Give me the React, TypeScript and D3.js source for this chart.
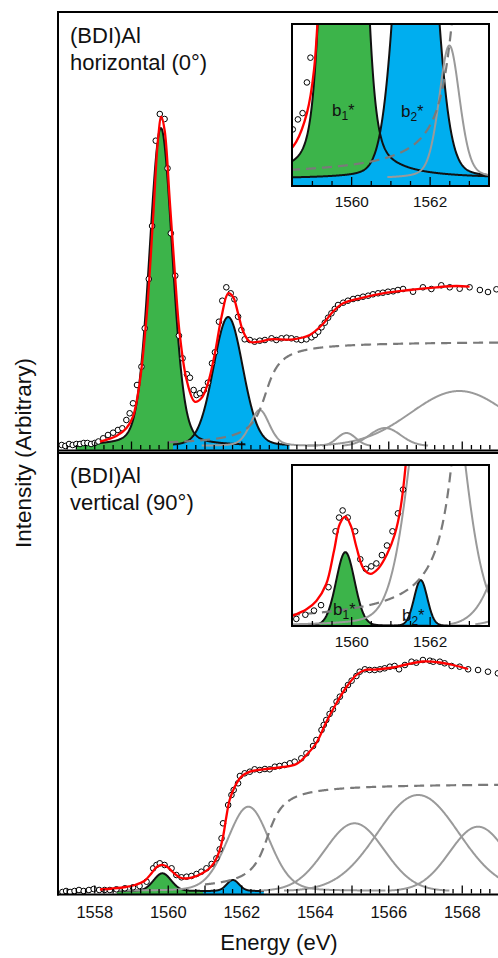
import React from "react";
import * as d3 from "d3";

const FONT = "'Liberation Sans', Arial, Helvetica, sans-serif";
const GREEN = "#3cb44a";
const BLUE = "#00aeef";
const GRAY = "#9a9a9a";
const DASH = "#7a7a7a";
const RED = "#ff0000";

// ---------- axis ----------
const xTickLabels = [1558, 1560, 1562, 1564, 1566, 1568];
const insetTickLabels = [1560, 1562];

// ---------- top panel : horizontal (0°) ----------
const topDataE = [
  1557.1, 1557.2, 1557.3, 1557.4, 1557.5, 1557.6, 1557.7, 1557.8, 1557.9, 1558.0, 1558.1,
  1558.23, 1558.36, 1558.5, 1558.63, 1558.75, 1558.86, 1558.95, 1559.04, 1559.15, 1559.27,
  1559.36, 1559.47, 1559.56, 1559.66, 1559.77, 1559.9, 1559.98, 1560.07, 1560.19, 1560.29,
  1560.39, 1560.51, 1560.59, 1560.69, 1560.77, 1560.86, 1560.97, 1561.08, 1561.19, 1561.27,
  1561.38, 1561.47, 1561.58, 1561.7, 1561.8, 1561.9, 1561.99, 1562.08, 1562.22, 1562.35,
  1562.49, 1562.63, 1562.81, 1562.94, 1563.08, 1563.22, 1563.35, 1563.49, 1563.62, 1563.76,
  1563.9, 1563.99, 1564.08, 1564.17, 1564.26, 1564.35, 1564.44, 1564.53, 1564.62, 1564.76,
  1564.89, 1565.03, 1565.16, 1565.3, 1565.44, 1565.57, 1565.71, 1565.84, 1565.98, 1566.12,
  1566.25, 1566.39, 1566.66, 1566.93, 1567.16, 1567.43, 1567.66, 1567.93, 1568.2, 1568.48,
  1568.7, 1568.93,
];
const topDataI = [
  0.01, 0.0, 0.02, 0.01, 0.02, 0.02, 0.03, 0.03, 0.02, 0.03, 0.045,
  0.077, 0.11, 0.133, 0.16, 0.177, 0.26, 0.327, 0.427, 0.61, 0.793,
  1.177, 1.67, 2.2, 3.053, 3.32, 3.27, 2.777, 2.127, 1.703, 1.103,
  0.877, 0.717, 0.683, 0.56, 0.51, 0.527, 0.56, 0.633, 0.827, 0.937,
  1.243, 1.453, 1.587, 1.527, 1.467, 1.293, 1.16, 1.067, 1.06, 1.043,
  1.053, 1.06, 1.077, 1.06, 1.077, 1.083, 1.077, 1.067, 1.06, 1.067,
  1.087, 1.11, 1.143, 1.187, 1.233, 1.283, 1.327, 1.37, 1.41, 1.433,
  1.453, 1.47, 1.48, 1.493, 1.503, 1.517, 1.527, 1.533, 1.543, 1.547,
  1.56, 1.57, 1.543, 1.587, 1.57, 1.607, 1.587, 1.573, 1.587, 1.56,
  1.54, 1.567,
];
const topFitE = [
  1558.14, 1558.59, 1558.86, 1559.04, 1559.22, 1559.41, 1559.59, 1559.72, 1559.81, 1559.9,
  1560.04, 1560.18, 1560.31, 1560.5, 1560.72, 1560.9, 1561.08, 1561.27, 1561.45, 1561.63,
  1561.76, 1561.9, 1562.04, 1562.22, 1562.49, 1562.76, 1563.4, 1563.85, 1564.21, 1564.48,
  1564.76, 1565.21, 1565.84, 1566.57, 1567.3, 1567.84, 1568.2,
];
const topFitI = [
  0.043, 0.1, 0.177, 0.293, 0.627, 1.293, 2.293, 3.06, 3.293, 3.16,
  2.46, 1.727, 1.127, 0.66, 0.443, 0.477, 0.627, 0.927, 1.293, 1.527,
  1.493, 1.327, 1.143, 1.043, 1.043, 1.067, 1.067, 1.11, 1.22, 1.343,
  1.427, 1.477, 1.527, 1.56, 1.587, 1.6, 1.593,
];
// peaks: b1*, b2*, then grey components
const topPeakCenter = [1559.8, 1561.63, 1562.49, 1564.85, 1565.9, 1567.92];
const topPeakHeight = [3.18, 1.29, 0.36, 0.13, 0.18, 0.55];
const topPeakFwhm = [0.74, 0.95, 0.62, 0.6, 1.0, 3.1];
const topPeakEta = [0.2, 0.12, 0.3, 0, 0, 0];
const topStep = [1562.65, 1.05, 0.3]; // edge energy, height, width
const topFillSpan = [[1557.5, 1562.1], [1560.13, 1563.3]];
const topDashFrom = 1560.0;

// ---------- bottom panel : vertical (90°) ----------
const botDataE = [
  1557.12, 1557.22, 1557.33, 1557.45, 1557.57, 1557.7, 1557.84, 1557.97, 1558.12, 1558.27,
  1558.41, 1558.59, 1558.82, 1559.04, 1559.22, 1559.41, 1559.59, 1559.68, 1559.77, 1559.9,
  1560.09, 1560.22, 1560.36, 1560.5, 1560.63, 1560.77, 1560.9, 1561.04, 1561.18, 1561.31,
  1561.4, 1561.45, 1561.49, 1561.63, 1561.72, 1561.78, 1561.9, 1561.95, 1562.08, 1562.22,
  1562.35, 1562.49, 1562.63, 1562.76, 1562.9, 1563.03, 1563.17, 1563.31, 1563.44, 1563.62,
  1563.76, 1563.94, 1564.03, 1564.17, 1564.23, 1564.3, 1564.39, 1564.48, 1564.58, 1564.67,
  1564.78, 1564.89, 1564.99, 1565.12, 1565.21, 1565.35, 1565.48, 1565.62, 1565.76, 1565.89,
  1566.03, 1566.16, 1566.28, 1566.44, 1566.62, 1566.75, 1566.93, 1567.12, 1567.21, 1567.39,
  1567.52, 1567.71, 1567.93, 1568.16, 1568.43, 1568.7, 1568.97,
];
const botDataI = [
  -0.01, 0.0, -0.01, 0.0, 0.01, 0.0, 0.01, 0.02, 0.01, 0.01,
  0.01, 0.017, 0.027, 0.037, 0.05, 0.093, 0.227, 0.26, 0.277, 0.26,
  0.227, 0.16, 0.137, 0.143, 0.15, 0.17, 0.193, 0.227, 0.27, 0.327,
  0.417, 0.527, 0.677, 0.86, 0.96, 1.01, 1.077, 1.15, 1.177, 1.193,
  1.217, 1.21, 1.22, 1.217, 1.243, 1.25, 1.26, 1.277, 1.293, 1.327,
  1.377, 1.45, 1.51, 1.61, 1.66, 1.71, 1.77, 1.817, 1.893, 1.943,
  2.01, 2.06, 2.103, 2.15, 2.193, 2.217, 2.21, 2.21, 2.217, 2.227,
  2.243, 2.25, 2.217, 2.26, 2.293, 2.283, 2.31, 2.303, 2.293, 2.293,
  2.277, 2.25, 2.243, 2.217, 2.21, 2.193, 2.177,
];
const botFitE = [
  1558.14, 1558.5, 1558.85, 1559.1, 1559.35, 1559.55, 1559.7, 1559.84, 1559.98, 1560.12,
  1560.3, 1560.48, 1560.68, 1560.9, 1561.1, 1561.25, 1561.4, 1561.49, 1561.58, 1561.67,
  1561.81, 1561.99, 1562.22, 1562.58, 1563.03, 1563.49, 1563.76, 1564.03, 1564.3, 1564.58,
  1564.85, 1565.12, 1565.35, 1565.67, 1566.12, 1566.48, 1566.93, 1567.39, 1567.75, 1568.16,
];
const botFitI = [
  0.015, 0.025, 0.04, 0.06, 0.1, 0.18, 0.245, 0.262, 0.24, 0.19,
  0.138, 0.125, 0.138, 0.172, 0.22, 0.285, 0.41, 0.54, 0.74, 0.91,
  1.043, 1.143, 1.193, 1.217, 1.235, 1.27, 1.36, 1.48, 1.69, 1.88,
  2.04, 2.16, 2.21, 2.215, 2.235, 2.265, 2.295, 2.285, 2.26, 2.22,
];
const botPeakCenter = [1559.84, 1561.76, 1562.18, 1565.07, 1566.8, 1568.43];
const botPeakHeight = [0.177, 0.11, 0.843, 0.677, 0.96, 0.643];
const botPeakFwhm = [0.56, 0.4, 1.35, 1.9, 2.6, 1.82];
const botPeakEta = [0.1, 0.1, 0.15, 0, 0, 0];
const botStep = [1562.7, 1.08, 0.33];
const botFillSpan = [[1558.6, 1561.1], [1560.95, 1562.6]];
const botDashFrom = 1561.0;

// ---------- helpers ----------
function pv(e: number, c: number, h: number, f: number, eta: number) {
  const d = (e - c) / f;
  return h * ((1 - eta) * Math.exp(-4 * Math.LN2 * d * d) + eta / (1 + 4 * d * d));
}
function stepFn(e: number, c: number, h: number, w: number) {
  return h * (0.5 + Math.atan((e - c) / w) / Math.PI);
}
const grid = d3.range(0, 1401).map((i) => 1556.5 + i * 0.01);

type PanelData = {
  dataE: number[]; dataI: number[]; fitE: number[]; fitI: number[];
  center: number[]; height: number[]; fwhm: number[]; eta: number[];
  step: number[]; span: number[][]; dashFrom: number;
};

const TOP: PanelData = {
  dataE: topDataE, dataI: topDataI, fitE: topFitE, fitI: topFitI,
  center: topPeakCenter, height: topPeakHeight, fwhm: topPeakFwhm, eta: topPeakEta,
  step: topStep, span: topFillSpan, dashFrom: topDashFrom,
};
const BOT: PanelData = {
  dataE: botDataE, dataI: botDataI, fitE: botFitE, fitI: botFitI,
  center: botPeakCenter, height: botPeakHeight, fwhm: botPeakFwhm, eta: botPeakEta,
  step: botStep, span: botFillSpan, dashFrom: botDashFrom,
};

function Curves({ p, x, y, base, inset }: { p: PanelData; x: any; y: any; base: number; inset: boolean }) {
  const [lo, hi] = x.domain();
  const g = grid.filter((e) => e >= lo - 0.05 && e <= hi + 0.05);
  const line = d3.line<number[]>().x((d) => x(d[0])).y((d) => y(d[1]));
  const area = d3.area<number[]>().x((d) => x(d[0])).y0(base).y1((d) => y(d[1]));
  const peaks = p.center.map((c, i) => g.map((e) => [e, pv(e, c, p.height[i], p.fwhm[i], p.eta[i])]));
  const fillPts = (i: number) =>
    inset ? peaks[i] : peaks[i].filter((d) => d[0] >= p.span[i][0] && d[0] <= p.span[i][1]);
  const stepPts = g
    .filter((e) => inset || e >= p.dashFrom)
    .map((e) => [e, stepFn(e, p.step[0], p.step[1], p.step[2])]);
  const fit = d3
    .line<number>()
    .x((_, i) => x(p.fitE[i]))
    .y((v) => y(v))
    .curve(d3.curveCatmullRom.alpha(0.5));
  return (
    <g>
      <path d={area(fillPts(0)) || ""} fill={GREEN} />
      <path d={area(fillPts(1)) || ""} fill={BLUE} />
      <path d={line(fillPts(0)) || ""} fill="none" stroke="#111" strokeWidth={2} />
      <path d={line(fillPts(1)) || ""} fill="none" stroke="#111" strokeWidth={2} />
      {peaks.slice(2).map((pts, k) => (
        <path
          key={k}
          d={line(pts.filter((d) => d[1] > 0.004)) || ""}
          fill="none"
          stroke={GRAY}
          strokeWidth={2}
        />
      ))}
      <path d={line(stepPts) || ""} fill="none" stroke={DASH} strokeWidth={2.2} strokeDasharray="10,6" />
      {p.dataE.map((e, i) => (
        <circle key={i} cx={x(e)} cy={y(p.dataI[i])} r={2.8} fill="#fff" stroke="#000" strokeWidth={1} />
      ))}
      <path d={fit(p.fitI) || ""} fill="none" stroke={RED} strokeWidth={2.3} />
    </g>
  );
}

function MainTicks({ x, yAxis }: { x: any; yAxis: number }) {
  const ticks = d3.range(0, 53).map((i) => 1557 + i * 0.25);
  return (
    <g stroke="#000" strokeWidth={1.3}>
      {ticks.map((t, i) => {
        const major = Math.abs(t - Math.round(t)) < 1e-6;
        return <line key={i} x1={x(t)} x2={x(t)} y1={yAxis} y2={yAxis - (major ? 8 : 4.5)} />;
      })}
    </g>
  );
}

function Inset({ p, y, top, h, clipId, labels }: any) {
  const x = d3.scaleLinear().domain([1558.48, 1563.5]).range([292, 489]);
  const bottom = top + h;
  const ticks = d3.range(0, 10).map((i) => 1559 + i * 0.5);
  return (
    <g>
      <rect x={292} y={top} width={197} height={h} fill="#fff" />
      <g clipPath={`url(#${clipId})`}>
        <Curves p={p} x={x} y={y} base={bottom} inset={true} />
      </g>
      <g stroke="#000" strokeWidth={1.3}>
        {ticks.map((t, i) => {
          const major = insetTickLabels.includes(t);
          return <line key={i} x1={x(t)} x2={x(t)} y1={bottom} y2={bottom - (major ? 9 : 5)} />;
        })}
      </g>
      <rect x={292} y={top} width={197} height={h} fill="none" stroke="#000" strokeWidth={2} />
      {insetTickLabels.map((t) => (
        <text key={t} x={x(t)} y={bottom + 21} fontSize={15.3} textAnchor="middle" fill="#111">
          {t}
        </text>
      ))}
      {labels}
    </g>
  );
}

function BLabel({ x, y, n }: { x: number; y: number; n: string }) {
  return (
    <text x={x} y={y} fontSize={17} fill="#111">
      b
      <tspan fontSize={12} dy={4}>{n}</tspan>
      <tspan fontSize={16} dy={-4}>*</tspan>
    </text>
  );
}

export default function App() {
  const x = d3.scaleLinear().domain([1557, 1570]).range([58, 58 + 13 * 36.75]);
  const yTop = d3.scaleLinear().domain([0, 4.34]).range([446, 12]);
  const yBot = d3.scaleLinear().domain([0, 4.39]).range([891, 452]);
  const yTopIn = d3.scaleLinear().domain([-0.02, 0.418]).range([186, 24]);
  const yBotIn = d3.scaleLinear().domain([0, 0.386]).range([626, 465]);

  return (
    <svg
      width={498}
      height={958}
      style={{ position: "absolute", left: 0, top: 0, background: "#fff" }}
      fontFamily={FONT}
    >
      <defs>
        <clipPath id="cTop"><rect x={58} y={12} width={480} height={438} /></clipPath>
        <clipPath id="cBot"><rect x={58} y={453} width={480} height={441} /></clipPath>
        <clipPath id="cTopIn"><rect x={292} y={24} width={197} height={162} /></clipPath>
        <clipPath id="cBotIn"><rect x={292} y={465} width={197} height={161} /></clipPath>
      </defs>
      <rect x={0} y={0} width={498} height={958} fill="#fff" />

      {/* top panel */}
      <g clipPath="url(#cTop)">
        <Curves p={TOP} x={x} y={yTop} base={450} inset={false} />
      </g>
      <MainTicks x={x} yAxis={449.5} />

      {/* bottom panel */}
      <g clipPath="url(#cBot)">
        <Curves p={BOT} x={x} y={yBot} base={894} inset={false} />
      </g>
      <MainTicks x={x} yAxis={893.5} />

      {/* frames */}
      <g stroke="#000" strokeWidth={2} fill="none">
        <line x1={57} x2={498} y1={12} y2={12} />
        <line x1={58} x2={58} y1={11} y2={895.5} />
        <line x1={57} x2={498} y1={450.5} y2={450.5} />
        <line x1={57} x2={498} y1={453} y2={453} />
        <line x1={57} x2={498} y1={894.5} y2={894.5} />
      </g>

      {/* insets */}
      <Inset
        p={TOP}
        y={yTopIn}
        top={24}
        h={162}
        clipId="cTopIn"
        labels={
          <g>
            <BLabel x={332} y={116} n="1" />
            <BLabel x={401} y={117} n="2" />
          </g>
        }
      />
      <Inset
        p={BOT}
        y={yBotIn}
        top={465}
        h={161}
        clipId="cBotIn"
        labels={
          <g>
            <BLabel x={333} y={615} n="1" />
            <BLabel x={402} y={621} n="2" />
          </g>
        }
      />

      {/* panel labels */}
      <g fontSize={22} fill="#111">
        <text x={70} y={43}>(BDI)Al</text>
        <text x={70} y={70}>horizontal (0°)</text>
        <text x={70} y={483}>(BDI)Al</text>
        <text x={70} y={510}>vertical (90°)</text>
      </g>

      {/* axis tick labels */}
      {xTickLabels.map((t) => (
        <text key={t} x={x(t)} y={918} fontSize={16.5} textAnchor="middle" fill="#111">
          {t}
        </text>
      ))}
      <text x={279} y={950} fontSize={22} textAnchor="middle" fill="#111">
        Energy (eV)
      </text>
      <text transform="translate(31,453) rotate(-90)" fontSize={22.5} textAnchor="middle" fill="#111">
        Intensity (Arbitrary)
      </text>
    </svg>
  );
}
